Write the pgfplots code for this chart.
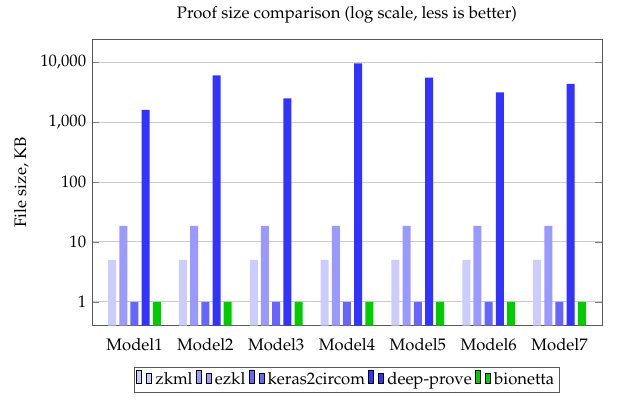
\documentclass[border=0pt]{standalone}
\usepackage[T1]{fontenc}
\usepackage{mathpazo}
\usepackage{pgfplots}
\pgfplotsset{compat=1.18}
\definecolor{czkml}{HTML}{CCCCFF}
\definecolor{cezkl}{HTML}{9999FF}
\definecolor{ckeras}{HTML}{6666FF}
\definecolor{cdeep}{HTML}{3333FF}
\definecolor{cbion}{HTML}{00CC00}
\begin{document}
\begin{tikzpicture}
\begin{axis}[
  scale only axis,
  width=306pt, height=172pt,
  at={(0,0)}, anchor=south west,
  ybar, bar width=4.8pt,
  ymode=log, log basis y=10, log origin=infty,
  ymin=0.4, ymax=24500,
  xmin=0.4, xmax=7.6,
  xtick={1,2,3,4,5,6,7},
  xticklabels={Model1,Model2,Model3,Model4,Model5,Model6,Model7},
  major x tick style={draw=none},
  ytick={1,10,100,1000,10000},
  log ticks with fixed point,
  /pgf/number format/1000 sep={,},
  /pgf/number format/assume math mode=true,
  ymajorgrids, grid style={gray!40, line width=0.6pt},
  axis line style={gray!70!black},
  title={Proof size comparison (log scale, less is better)},
  ylabel={File size, KB},
  legend style={at={(0.5,-0.145)}, anchor=north, legend columns=-1,
    draw=gray!70!black, inner sep=1pt,
    /tikz/every even column/.append style={column sep=0pt}},
  legend cell align=left,
]
\addplot[fill=czkml, draw=none, bar shift=-13.44pt] coordinates {(1,5) (2,5) (3,5) (4,5) (5,5) (6,5) (7,5)};
\addplot[fill=cezkl, draw=none, bar shift=-6.72pt] coordinates {(1,18.5) (2,18.5) (3,18.5) (4,18.5) (5,18.5) (6,18.5) (7,18.5)};
\addplot[fill=ckeras, draw=none, bar shift=0pt] coordinates {(1,1) (2,1) (3,1) (4,1) (5,1) (6,1) (7,1)};
\addplot[fill=cdeep, draw=none, bar shift=6.72pt] coordinates {(1,1600) (2,6050) (3,2500) (4,9600) (5,5550) (6,3150) (7,4350)};
\addplot[fill=cbion, draw=none, bar shift=13.44pt] coordinates {(1,1) (2,1) (3,1) (4,1) (5,1) (6,1) (7,1)};
\legend{zkml,ezkl,keras2circom,deep-prove,bionetta}
\end{axis}
\useasboundingbox (-55.2pt,-45pt) rectangle (330pt,195.4pt);
\end{tikzpicture}
\end{document}
